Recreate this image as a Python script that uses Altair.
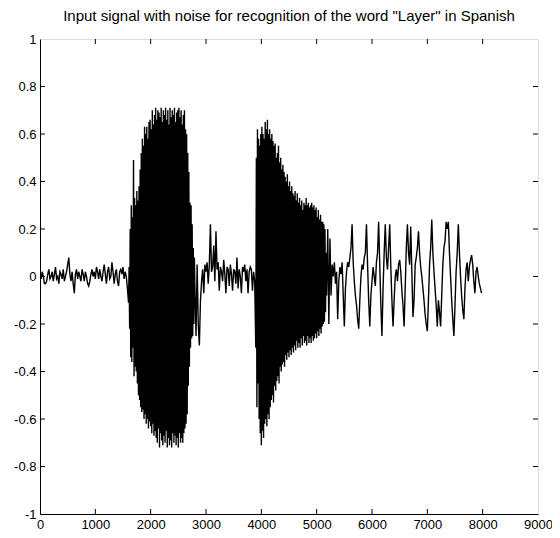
import altair as alt
import pandas as pd

TITLE = 'Input signal with noise for recognition of the word "Layer" in Spanish'
X_TICKS = [0, 1000, 2000, 3000, 4000, 5000, 6000, 7000, 8000, 9000]
Y_TICKS = [-1, -0.8, -0.6, -0.4, -0.2, 0, 0.2, 0.4, 0.6, 0.8, 1]

# Quiet lead-in, samples 0..1580 every 20 samples
quiet_start, quiet_step = 0, 20
quiet = [0.01, -0.01, 0.02, 0.00, -0.03, -0.03, -0.02, 0.01, 0.03, -0.01,
         0.00, 0.02, -0.02, 0.01, 0.04, -0.01, 0.00, -0.03, 0.02, 0.01,
         -0.01, 0.03, -0.02, 0.00, 0.02, 0.05, 0.08, 0.01, -0.02, 0.02,
         -0.03, -0.07, 0.01, 0.03, -0.01, 0.02, 0.00, -0.02, 0.03, 0.01,
         -0.02, 0.02, 0.00, -0.03, -0.04, -0.02, 0.01, 0.03, 0.00, 0.02,
         -0.01, 0.04, 0.02, -0.01, 0.03, 0.00, -0.02, 0.02, 0.05, 0.01,
         -0.03, 0.02, 0.04, -0.01, 0.00, 0.06, 0.02, -0.03, 0.01, 0.03,
         -0.02, -0.04, 0.02, 0.03, 0.01, 0.04, -0.01, 0.02, 0.00, -0.05]

# First voiced burst, samples 1600..2790 every 10 samples
burst1_start, burst1_step = 1600, 10
burst1 = [-0.11, 0.04, -0.22, 0.20, -0.34, 0.30, -0.36, 0.25, -0.30, 0.49,
          -0.42, 0.33, -0.38, 0.30, -0.40, 0.36, -0.45, 0.32, -0.50, 0.38,
          -0.52, 0.45, -0.55, 0.52, -0.57, 0.58, -0.56, 0.55, -0.60, 0.63,
          -0.58, 0.60, -0.62, 0.63, -0.60, 0.58, -0.64, 0.65, -0.61, 0.66,
          -0.63, 0.62, -0.66, 0.70, -0.62, 0.64, -0.67, 0.68, -0.65, 0.71,
          -0.68, 0.66, -0.70, 0.70, -0.64, 0.69, -0.72, 0.67, -0.66, 0.71,
          -0.69, 0.65, -0.71, 0.70, -0.67, 0.68, -0.70, 0.71, -0.65, 0.66,
          -0.72, 0.70, -0.68, 0.64, -0.71, 0.71, -0.69, 0.67, -0.72, 0.70,
          -0.66, 0.68, -0.70, 0.71, -0.67, 0.65, -0.71, 0.69, -0.68, 0.70,
          -0.72, 0.71, -0.66, 0.67, -0.70, 0.70, -0.68, 0.64, -0.70, 0.68,
          -0.66, 0.70, -0.64, 0.62, -0.62, 0.60, -0.58, 0.52, -0.46, 0.44,
          -0.38, 0.31, -0.30, 0.30, -0.26, 0.22, -0.25, 0.12, -0.20, 0.08]

# Pause between the bursts, samples 2800..3880 every 20 samples
gap_start, gap_step = 2800, 20
gap = [-0.05, -0.25, 0.05, -0.20, -0.29, -0.10, -0.02, 0.03, -0.07, 0.05,
       0.02, 0.06, -0.03, 0.05, 0.22, 0.02, 0.04, 0.13, -0.02, 0.19,
       0.03, 0.06, -0.06, 0.04, 0.02, -0.02, 0.07, 0.01, -0.07, 0.04,
       0.03, -0.04, 0.05, 0.01, -0.06, 0.03, 0.02, -0.03, 0.08, -0.05,
       0.03, 0.00, -0.07, 0.04, 0.02, 0.05, -0.02, 0.03, -0.07, 0.02,
       0.04, 0.03, -0.06, 0.02, -0.02]

# Second voiced burst, samples 3900..5190 every 10 samples
burst2_start, burst2_step = 3900, 10
burst2 = [-0.30, 0.50, -0.55, 0.62, -0.45, 0.58, -0.60, 0.55, -0.66, 0.60,
          -0.71, 0.63, -0.65, 0.60, -0.68, 0.58, -0.62, 0.65, -0.60, 0.62,
          -0.63, 0.66, -0.58, 0.60, -0.60, 0.62, -0.55, 0.58, -0.52, 0.60,
          -0.50, 0.57, -0.53, 0.55, -0.46, 0.56, -0.48, 0.50, -0.44, 0.52,
          -0.42, 0.55, -0.45, 0.48, -0.38, 0.50, -0.40, 0.45, -0.37, 0.47,
          -0.36, 0.44, -0.38, 0.42, -0.33, 0.40, -0.35, 0.43, -0.32, 0.38,
          -0.34, 0.40, -0.31, 0.36, -0.33, 0.38, -0.30, 0.35, -0.32, 0.34,
          -0.29, 0.36, -0.31, 0.32, -0.27, 0.35, -0.30, 0.31, -0.28, 0.33,
          -0.30, 0.30, -0.26, 0.32, -0.29, 0.28, -0.25, 0.31, -0.28, 0.30,
          -0.27, 0.33, -0.29, 0.30, -0.25, 0.31, -0.28, 0.29, -0.26, 0.30,
          -0.28, 0.31, -0.25, 0.29, -0.27, 0.30, -0.26, 0.28, -0.24, 0.29,
          -0.26, 0.25, -0.23, 0.28, -0.25, 0.24, -0.22, 0.26, -0.24, 0.23,
          -0.21, 0.23, -0.20, 0.22, -0.19, 0.20, -0.15, 0.10, -0.08, 0.05]

# Noisy tail, samples 5200..7980 every 20 samples
tail_start, tail_step = 5200, 20
tail = [0.20, -0.20, 0.16, -0.08, 0.05, 0.00, 0.06, -0.03, 0.02, -0.18,
        -0.02, 0.04, 0.01, 0.06, -0.08, -0.21, -0.05, 0.02, 0.06, 0.04,
        0.08, 0.12, 0.22, 0.06, -0.02, -0.08, -0.12, -0.18, -0.22, -0.10,
        0.00, 0.05, 0.03, 0.08, 0.10, 0.22, 0.05, -0.10, -0.21, -0.08,
        -0.02, 0.04, 0.00, -0.04, 0.06, 0.10, 0.23, 0.05, -0.12, -0.25,
        -0.05, 0.10, 0.22, 0.08, 0.03, 0.12, 0.22, 0.04, -0.10, -0.21,
        -0.10, 0.00, 0.03, -0.02, 0.05, 0.07, 0.02, -0.06, -0.12, -0.21,
        -0.05, 0.12, 0.22, 0.10, 0.05, 0.21, 0.02, -0.17, -0.10, 0.05,
        0.08, 0.12, 0.19, 0.10, 0.04, 0.00, -0.05, -0.10, -0.16, -0.20,
        -0.23, -0.10, 0.05, 0.12, 0.24, 0.10, 0.02, -0.05, -0.12, -0.21,
        -0.10, -0.15, -0.21, -0.08, 0.05, 0.12, 0.15, 0.23, 0.20, 0.23,
        0.10, 0.00, -0.10, -0.18, -0.25, -0.12, 0.02, 0.10, 0.22, 0.10,
        0.00, -0.08, -0.14, -0.18, -0.05, 0.03, 0.06, -0.02, 0.04, 0.07,
        0.09, 0.05, -0.02, -0.07, 0.02, 0.04, 0.00, -0.03, -0.05, -0.07]

segments = [(quiet_start, quiet_step, quiet), (burst1_start, burst1_step, burst1),
            (gap_start, gap_step, gap), (burst2_start, burst2_step, burst2),
            (tail_start, tail_step, tail)]
rows = []
for start, step, vals in segments:
    for i, v in enumerate(vals):
        rows.append({"sample": start + i * step, "amp": v})
df = pd.DataFrame(rows)

FONT = "Liberation Sans"
xscale = alt.Scale(domain=[0, 9000], nice=False, zero=False)
yscale = alt.Scale(domain=[-1, 1], nice=False, zero=False)

x_axis = alt.Axis(values=X_TICKS, format="d", title=None, grid=False, ticks=False,
                  labelPadding=4, domainColor="black", domainWidth=1, labelColor="black",
                  labelFont=FONT, labelFontSize=13, labelFlush=False)
y_axis = alt.Axis(values=Y_TICKS, format="~g", title=None, grid=False, ticks=False,
                  labelPadding=4, domainColor="black", domainWidth=1, labelColor="black",
                  labelFont=FONT, labelFontSize=13, labelFlush=False,
                  labelExpr="replace(datum.label, '\u2212', '-')")

line = alt.Chart(df).mark_line(color="black", strokeWidth=1.4, clip=True).encode(
    x=alt.X("sample:Q", scale=xscale, axis=x_axis),
    y=alt.Y("amp:Q", scale=yscale, axis=y_axis),
)

inner_x = pd.DataFrame({"t": X_TICKS[1:-1]})
inner_y = pd.DataFrame({"t": Y_TICKS[1:-1]})

bottom_ticks = alt.Chart(inner_x).mark_rule(color="black", strokeWidth=1).encode(
    x=alt.X("t:Q", scale=xscale, axis=x_axis), y=alt.datum(-1), y2=alt.datum(-0.979))
top_ticks = alt.Chart(inner_x).mark_rule(color="black", strokeWidth=1).encode(
    x=alt.X("t:Q", scale=xscale, axis=x_axis), y=alt.datum(1), y2=alt.datum(0.979))
left_ticks = alt.Chart(inner_y).mark_rule(color="black", strokeWidth=1).encode(
    y=alt.Y("t:Q", scale=yscale, axis=y_axis), x=alt.datum(0), x2=alt.datum(90))
right_ticks = alt.Chart(inner_y).mark_rule(color="black", strokeWidth=1).encode(
    y=alt.Y("t:Q", scale=yscale, axis=y_axis), x=alt.datum(9000), x2=alt.datum(8910))

chart = alt.layer(line, bottom_ticks, top_ticks, left_ticks, right_ticks).properties(
    width=498, height=475,
    title=alt.TitleParams(TITLE, font=FONT, fontSize=15, fontWeight="normal",
                          color="black", anchor="middle", offset=9),
    autosize=alt.AutoSizeParams(type="none"),
    padding={"left": 32, "top": 31, "right": 14, "bottom": 16},
).configure_view(stroke="black", strokeWidth=1).configure(background="white")

chart.save("out.html", embed_options={"renderer": "svg", "actions": False})
